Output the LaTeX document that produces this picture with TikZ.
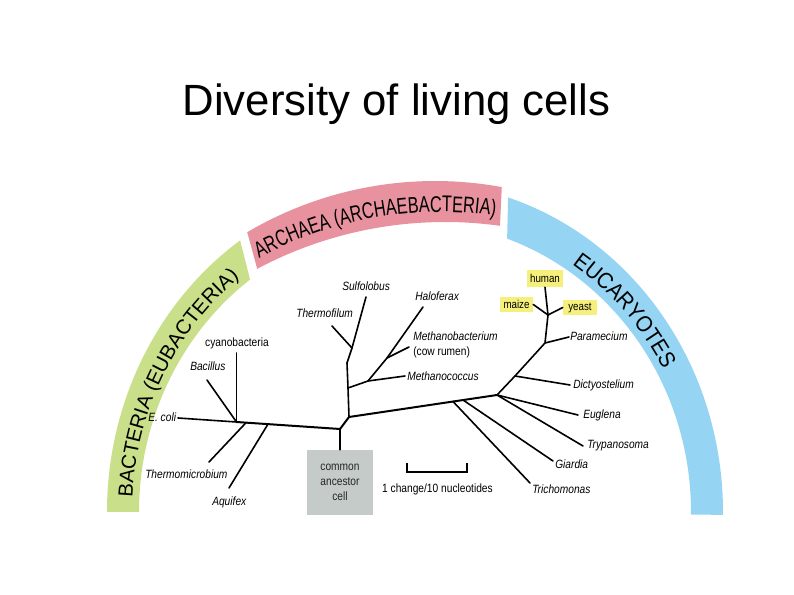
\documentclass[tikz,border=0pt]{standalone}
\usepackage{fontspec}
\setmainfont{Liberation Sans}
\newfontfamily\titlefont{Liberation Sans}
\newfontfamily\labfont[FakeStretch=0.85]{Liberation Sans}
\newfontfamily\bandfont{Liberation Sans}
\newfontfamily\bandnarrow[FakeStretch=0.72]{Liberation Sans}
\newfontfamily\bandeu[FakeStretch=0.9]{Liberation Sans}
\usetikzlibrary{calc,decorations.text}
\definecolor{bgreen}{HTML}{C9DF8A}
\definecolor{bpink}{HTML}{E8929F}
\definecolor{bblue}{HTML}{95D4F2}
\definecolor{hlyellow}{HTML}{F5EF7C}
\definecolor{boxgray}{HTML}{C5CBC8}
\begin{document}
\begin{tikzpicture}[x=0.75pt,y=-0.75pt,
  br/.style={line width=1.2pt,line cap=round,line join=round},
  trunk/.style={line width=1.5pt,line cap=round,line join=round},
  lab/.style={font=\labfont\fontsize{9pt}{11pt}\selectfont\itshape,inner sep=0pt,anchor=base west},
  labr/.style={font=\labfont\fontsize{9pt}{11pt}\selectfont,inner sep=0pt,anchor=base west},
  hl/.style={fill=hlyellow,inner sep=0pt,font=\labfont\fontsize{8.6pt}{10pt}\selectfont}
]
\useasboundingbox (0,0) rectangle (794,595);
\fill[white] (0,0) rectangle (794,595);
\node[font=\titlefont\fontsize{32.8pt}{39pt}\selectfont,anchor=base,inner sep=0pt] (title) at (396.5,116) {Diversity of living cells};

% ---------- bands ----------
\coordinate (O) at (415,512);
\coordinate (P1) at (435,551);
\coordinate (P2) at (445,622);
\coordinate (P3) at (440,590);
\fill[bgreen] ($(O)+(-180:308 and 330)$) arc[start angle=-180,end angle=-124.6,x radius=308,y radius=330]
  -- ($(O)+(-126.7:276 and 290)$) arc[start angle=-126.7,end angle=-180,x radius=276,y radius=290] -- cycle;
\fill[bpink] ($(P1)+(-120.5:370)$) arc[start angle=-120.5,end angle=-79.6,radius=370]
  -- ($(P2)+(-82.1:400)$) arc[start angle=-82.1,end angle=-118,radius=400] -- cycle;
\fill[bblue] ($(O)+(-72.4:308 and 330)$) arc[start angle=-72.4,end angle=0.5,x radius=308,y radius=330]
  -- ($(O)+(0.5:276 and 290)$) arc[start angle=0.5,end angle=-70.5,x radius=276,y radius=290] -- cycle;

\path[decorate,decoration={text along path,text={|\bandfont\fontsize{15.3pt}{18pt}\selectfont|BACTERIA (EUBACTERIA)}}]
  ($(O)+(-177.2:283 and 299)$) arc[start angle=-177.2,end angle=-110,x radius=283,y radius=299];
\path[decorate,decoration={text along path,text={|\bandnarrow\fontsize{17pt}{20pt}\selectfont|ARCHAEA (ARCHAEBACTERIA)}}]
  ($(P3)+(-118.6:378)$) arc[start angle=-118.6,end angle=-65,radius=378];
\path[decorate,decoration={text along path,text={|\bandeu\fontsize{17pt}{20pt}\selectfont|EUCARYOTES}}]
  ($(O)+(-56.3:283 and 298)$) arc[start angle=-56.3,end angle=-2,x radius=283,y radius=298];

% ---------- tree coordinates ----------
\coordinate (r0) at (340,429);
\coordinate (ae) at (349,417);
\coordinate (ecT) at (178,418);
\coordinate (bj) at (236.5,422);
\coordinate (tmj) at (246,422.7);
\coordinate (aqj) at (268,424.1);
\coordinate (cyT) at (236.5,353);
\coordinate (baT) at (207,380);
\coordinate (thT) at (209,462);
\coordinate (aqT) at (229,488);
\coordinate (aj1) at (348,388);
\coordinate (ak) at (347,363);
\coordinate (tj) at (352,348);
\coordinate (tfT) at (332,326);
\coordinate (sfT) at (366,297);
\coordinate (mj) at (368,381);
\coordinate (mcT) at (405,376);
\coordinate (hj) at (387,358);
\coordinate (hfT) at (423,307);
\coordinate (mbT) at (409,347);
\coordinate (ej) at (497,395);
\coordinate (trJ) at (453,401.5);
\coordinate (giJ) at (463,400);
\coordinate (trT) at (530,483);
\coordinate (giT) at (553,461);
\coordinate (egT) at (578,415);
\coordinate (tyT) at (583,446);
\coordinate (dj) at (515,376);
\coordinate (dyT) at (570,385);
\coordinate (pj) at (545,343);
\coordinate (pmT) at (569,337);
\coordinate (yj) at (548,315);

% ---------- labels ----------
\node[lab] (ecoli) at (148,422) {E. coli};
\node[labr,anchor=base] (cyano) at (237,347) {cyanobacteria};
\node[lab] (bacillus) at (190,371) {Bacillus};
\node[lab] (thermomicro) at (145,479) {Thermomicrobium};
\node[lab] (aquifex) at (212,506) {Aquifex};
\node[lab] (thermofilum) at (296,318) {Thermofilum};
\node[lab] (sulfolobus) at (342,291) {Sulfolobus};
\node[lab] (haloferax) at (415,301) {Haloferax};
\node[lab] (methanobac) at (413,341) {Methanobacterium};
\node[labr] (cowrumen) at (413,356) {(cow rumen)};
\node[lab] (methanococ) at (407,381) {Methanococcus};
\node[lab] (paramecium) at (570,341) {Paramecium};
\node[lab] (dictyo) at (573,389) {Dictyostelium};
\node[lab] (euglena) at (583,419) {Euglena};
\node[lab] (trypano) at (587,449) {Trypanosoma};
\node[lab] (giardia) at (555,469) {Giardia};
\node[lab] (tricho) at (532,494) {Trichomonas};
\node[labr,anchor=base] (scalelab) at (437.5,493) {1 change/10 nucleotides};

\node[hl,minimum width=27pt,minimum height=12.75pt] (human) at (545,278.5) {human};
\node[hl,minimum width=24.75pt,minimum height=11.25pt] (maize) at (516.5,304.5) {maize};
\node[hl,minimum width=25.5pt,minimum height=11.25pt] (yeast) at (580,307.5) {yeast};

\node[fill=boxgray,minimum width=49.5pt,minimum height=48.75pt,inner sep=0pt,align=center,
  font=\labfont\fontsize{9pt}{11.25pt}\selectfont,text=black!85] (ca) at (340,482.5) {common\\ancestor\\cell};

% ---------- scale bar ----------
\coordinate (sbL) at (407,472);
\coordinate (sbR) at (467,472);
\coordinate (sbLt) at (407,463);
\coordinate (sbRt) at (467,463);
\draw[line width=0.8pt] (sbLt) -- (sbL) -- (sbR) -- (sbRt);

% ---------- branches ----------
\draw[br] (ecT) -- (bj);
\draw[trunk] (bj) -- (r0);
\draw[br] (bj) -- (cyT);
\draw[br] (bj) -- (baT);
\draw[br] (tmj) -- (thT);
\draw[br] (aqj) -- (aqT);
\draw[br] (ca.north) -- (r0);
\draw[trunk] (r0) -- (ae);
\draw[br] (ae) -- (aj1) -- (ak) -- (tj) -- (sfT);
\draw[br] (tj) -- (tfT);
\draw[br] (aj1) -- (mj) -- (mcT);
\draw[br] (mj) -- (hj) -- (hfT);
\draw[br] (hj) -- (mbT);
\draw[trunk] (ae) -- (ej);
\draw[br] (trJ) -- (trT);
\draw[br] (giJ) -- (giT);
\draw[br] (ej) -- (egT);
\draw[br] (ej) -- (tyT);
\draw[br] (ej) -- (dj) -- (pj) -- (yj);
\draw[br] (dj) -- (dyT);
\draw[br] (pj) -- (pmT);
\draw[br] (yj) -- (maize.east);
\draw[br] (yj) -- (human.south);
\draw[br] (yj) -- (yeast.west);
\end{tikzpicture}
\end{document}
